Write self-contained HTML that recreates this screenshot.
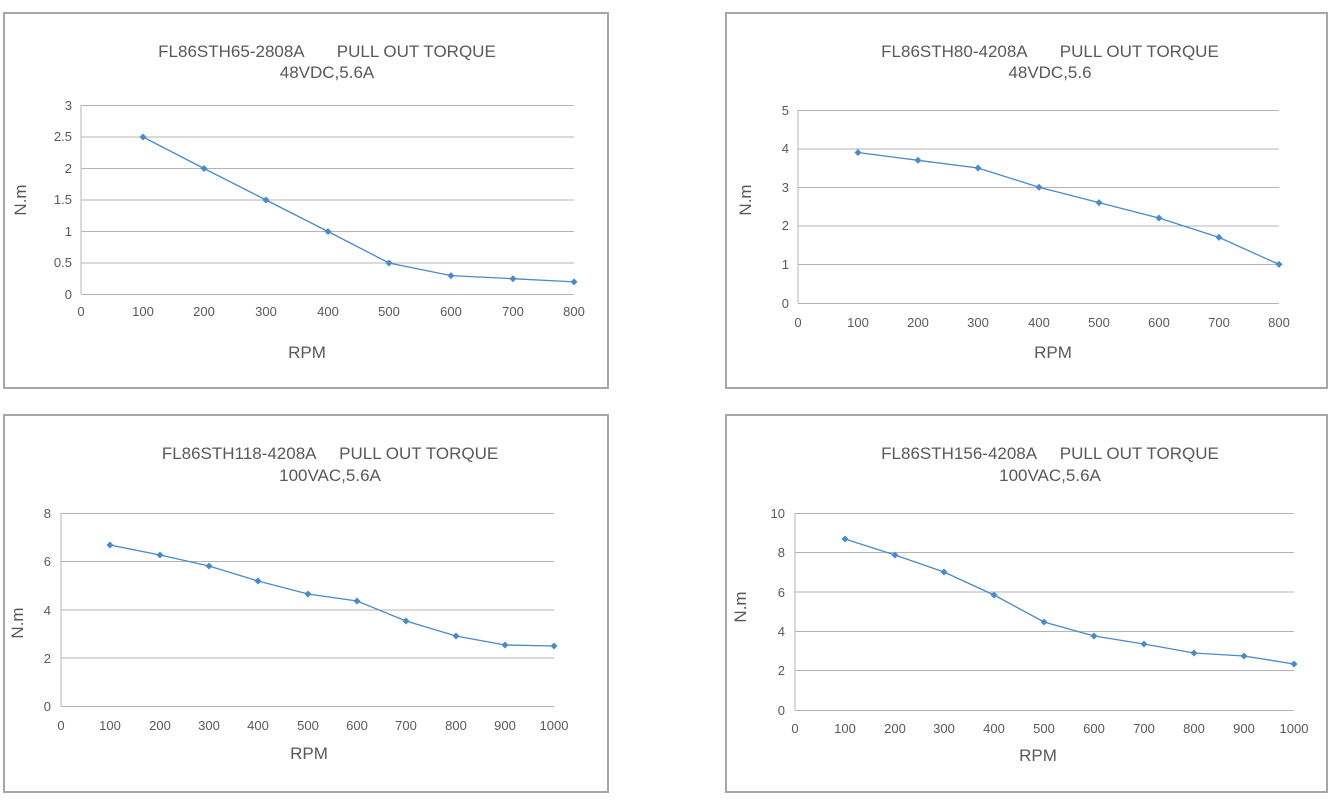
<!DOCTYPE html>
<html><head><meta charset="utf-8"><style>
html,body{margin:0;padding:0;background:#fff;}
svg{display:block;font-family:"Liberation Sans",sans-serif;}
text{white-space:pre;}
</style></head><body>
<svg width="1333" height="801" viewBox="0 0 1333 801" xmlns="http://www.w3.org/2000/svg" xml:space="preserve">
<g fill="none" stroke="#a6a6a6" stroke-width="2">
<rect x="4" y="13" width="604" height="375"/>
<rect x="726" y="13" width="601" height="375"/>
<rect x="4" y="415" width="604" height="377"/>
<rect x="726" y="415" width="601" height="377"/>
</g>
<g id="c1">
<g stroke="#b4b4b4" stroke-width="1">
<line x1="81" y1="105.5" x2="574" y2="105.5"/><line x1="81" y1="137" x2="574" y2="137"/><line x1="81" y1="168.5" x2="574" y2="168.5"/><line x1="81" y1="200" x2="574" y2="200"/><line x1="81" y1="231.5" x2="574" y2="231.5"/><line x1="81" y1="263" x2="574" y2="263"/><line x1="81" y1="294.5" x2="574" y2="294.5"/>
<line x1="81" y1="105" x2="81" y2="294"/>
</g>
<polyline fill="none" stroke="#4a8ac9" stroke-width="1.3" points="143,137 204,168.5 266,200 328,231.5 389,263 451,275.6 513,278.7 574,281.9"/>
<g fill="#4a8ac9"><path d="M143,133.5l3.5,3.5-3.5,3.5-3.5-3.5z M204,165l3.5,3.5-3.5,3.5-3.5-3.5z M266,196.5l3.5,3.5-3.5,3.5-3.5-3.5z M328,228l3.5,3.5-3.5,3.5-3.5-3.5z M389,259.5l3.5,3.5-3.5,3.5-3.5-3.5z M451,272.1l3.5,3.5-3.5,3.5-3.5-3.5z M513,275.2l3.5,3.5-3.5,3.5-3.5-3.5z M574,278.4l3.5,3.5-3.5,3.5-3.5-3.5z"/></g>
<g font-size="13" fill="#595959" text-anchor="end">
<text x="72" y="110">3</text><text x="72" y="141">2.5</text><text x="72" y="173">2</text><text x="72" y="204">1.5</text><text x="72" y="236">1</text><text x="72" y="267">0.5</text><text x="72" y="299">0</text></g>
<g font-size="13" fill="#595959" text-anchor="middle">
<text x="81" y="316">0</text><text x="143" y="316">100</text><text x="204" y="316">200</text><text x="266" y="316">300</text><text x="328" y="316">400</text><text x="389" y="316">500</text><text x="451" y="316">600</text><text x="513" y="316">700</text><text x="574" y="316">800</text></g>
<g font-size="17" fill="#595959" text-anchor="middle">
<text x="327" y="57">FL86STH65-2808A       PULL OUT TORQUE</text><text x="327" y="78">48VDC,5.6A</text>
<text x="307" y="358">RPM</text><text transform="translate(26,200) rotate(-90)">N.m</text></g>
</g>
<g id="c2">
<g stroke="#b4b4b4" stroke-width="1">
<line x1="798" y1="110.5" x2="1279" y2="110.5"/><line x1="798" y1="149" x2="1279" y2="149"/><line x1="798" y1="187.5" x2="1279" y2="187.5"/><line x1="798" y1="226" x2="1279" y2="226"/><line x1="798" y1="264.5" x2="1279" y2="264.5"/><line x1="798" y1="303.5" x2="1279" y2="303.5"/>
<line x1="798" y1="110" x2="798" y2="303"/>
</g>
<polyline fill="none" stroke="#4a8ac9" stroke-width="1.3" points="858,152.5 918,160.3 978,168 1039,187.2 1099,202.6 1159,218 1219,237.4 1279,264.4"/>
<g fill="#4a8ac9"><path d="M858,149l3.5,3.5-3.5,3.5-3.5-3.5z M918,156.8l3.5,3.5-3.5,3.5-3.5-3.5z M978,164.5l3.5,3.5-3.5,3.5-3.5-3.5z M1039,183.7l3.5,3.5-3.5,3.5-3.5-3.5z M1099,199.1l3.5,3.5-3.5,3.5-3.5-3.5z M1159,214.5l3.5,3.5-3.5,3.5-3.5-3.5z M1219,233.9l3.5,3.5-3.5,3.5-3.5-3.5z M1279,260.9l3.5,3.5-3.5,3.5-3.5-3.5z"/></g>
<g font-size="13" fill="#595959" text-anchor="end">
<text x="789" y="115">5</text><text x="789" y="153">4</text><text x="789" y="192">3</text><text x="789" y="230">2</text><text x="789" y="269">1</text><text x="789" y="308">0</text></g>
<g font-size="13" fill="#595959" text-anchor="middle">
<text x="798" y="327">0</text><text x="858" y="327">100</text><text x="918" y="327">200</text><text x="978" y="327">300</text><text x="1039" y="327">400</text><text x="1099" y="327">500</text><text x="1159" y="327">600</text><text x="1219" y="327">700</text><text x="1279" y="327">800</text></g>
<g font-size="17" fill="#595959" text-anchor="middle">
<text x="1050" y="57">FL86STH80-4208A       PULL OUT TORQUE</text><text x="1050" y="78">48VDC,5.6</text>
<text x="1053" y="358">RPM</text><text transform="translate(751,200) rotate(-90)">N.m</text></g>
</g>
<g id="c3">
<g stroke="#b4b4b4" stroke-width="1">
<line x1="61" y1="513.5" x2="554" y2="513.5"/><line x1="61" y1="561.5" x2="554" y2="561.5"/><line x1="61" y1="610" x2="554" y2="610"/><line x1="61" y1="658" x2="554" y2="658"/><line x1="61" y1="706.5" x2="554" y2="706.5"/>
<line x1="61" y1="513" x2="61" y2="706"/>
</g>
<polyline fill="none" stroke="#4a8ac9" stroke-width="1.3" points="110,545 160,555 209,566 258,581 308,594 357,601 406,621 456,636 505,645 554,646"/>
<g fill="#4a8ac9"><path d="M110,541.5l3.5,3.5-3.5,3.5-3.5-3.5z M160,551.5l3.5,3.5-3.5,3.5-3.5-3.5z M209,562.5l3.5,3.5-3.5,3.5-3.5-3.5z M258,577.5l3.5,3.5-3.5,3.5-3.5-3.5z M308,590.5l3.5,3.5-3.5,3.5-3.5-3.5z M357,597.5l3.5,3.5-3.5,3.5-3.5-3.5z M406,617.5l3.5,3.5-3.5,3.5-3.5-3.5z M456,632.5l3.5,3.5-3.5,3.5-3.5-3.5z M505,641.5l3.5,3.5-3.5,3.5-3.5-3.5z M554,642.5l3.5,3.5-3.5,3.5-3.5-3.5z"/></g>
<g font-size="13" fill="#595959" text-anchor="end">
<text x="51" y="518">8</text><text x="51" y="566">6</text><text x="51" y="615">4</text><text x="51" y="663">2</text><text x="51" y="711">0</text></g>
<g font-size="13" fill="#595959" text-anchor="middle">
<text x="61" y="730">0</text><text x="110" y="730">100</text><text x="160" y="730">200</text><text x="209" y="730">300</text><text x="258" y="730">400</text><text x="308" y="730">500</text><text x="357" y="730">600</text><text x="406" y="730">700</text><text x="456" y="730">800</text><text x="505" y="730">900</text><text x="554" y="730">1000</text></g>
<g font-size="17" fill="#595959" text-anchor="middle">
<text x="330" y="459">FL86STH118-4208A     PULL OUT TORQUE</text><text x="330" y="481">100VAC,5.6A</text>
<text x="309" y="759">RPM</text><text transform="translate(23,623) rotate(-90)">N.m</text></g>
</g>
<g id="c4">
<g stroke="#b4b4b4" stroke-width="1">
<line x1="795" y1="513.5" x2="1294" y2="513.5"/><line x1="795" y1="552.5" x2="1294" y2="552.5"/><line x1="795" y1="592" x2="1294" y2="592"/><line x1="795" y1="631.5" x2="1294" y2="631.5"/><line x1="795" y1="670.5" x2="1294" y2="670.5"/><line x1="795" y1="710.5" x2="1294" y2="710.5"/>
<line x1="795" y1="513" x2="795" y2="710"/>
</g>
<polyline fill="none" stroke="#4a8ac9" stroke-width="1.3" points="845,539 895,555 944,572 994,595 1044,622 1094,636 1144,644 1194,653 1244,656 1294,664"/>
<g fill="#4a8ac9"><path d="M845,535.5l3.5,3.5-3.5,3.5-3.5-3.5z M895,551.5l3.5,3.5-3.5,3.5-3.5-3.5z M944,568.5l3.5,3.5-3.5,3.5-3.5-3.5z M994,591.5l3.5,3.5-3.5,3.5-3.5-3.5z M1044,618.5l3.5,3.5-3.5,3.5-3.5-3.5z M1094,632.5l3.5,3.5-3.5,3.5-3.5-3.5z M1144,640.5l3.5,3.5-3.5,3.5-3.5-3.5z M1194,649.5l3.5,3.5-3.5,3.5-3.5-3.5z M1244,652.5l3.5,3.5-3.5,3.5-3.5-3.5z M1294,660.5l3.5,3.5-3.5,3.5-3.5-3.5z"/></g>
<g font-size="13" fill="#595959" text-anchor="end">
<text x="785" y="518">10</text><text x="785" y="557">8</text><text x="785" y="597">6</text><text x="785" y="636">4</text><text x="785" y="675">2</text><text x="785" y="715">0</text></g>
<g font-size="13" fill="#595959" text-anchor="middle">
<text x="795" y="733">0</text><text x="845" y="733">100</text><text x="895" y="733">200</text><text x="944" y="733">300</text><text x="994" y="733">400</text><text x="1044" y="733">500</text><text x="1094" y="733">600</text><text x="1144" y="733">700</text><text x="1194" y="733">800</text><text x="1244" y="733">900</text><text x="1294" y="733">1000</text></g>
<g font-size="17" fill="#595959" text-anchor="middle">
<text x="1050" y="459">FL86STH156-4208A     PULL OUT TORQUE</text><text x="1050" y="481">100VAC,5.6A</text>
<text x="1038" y="761">RPM</text><text transform="translate(746,607) rotate(-90)">N.m</text></g>
</g>
</svg>
</body></html>
